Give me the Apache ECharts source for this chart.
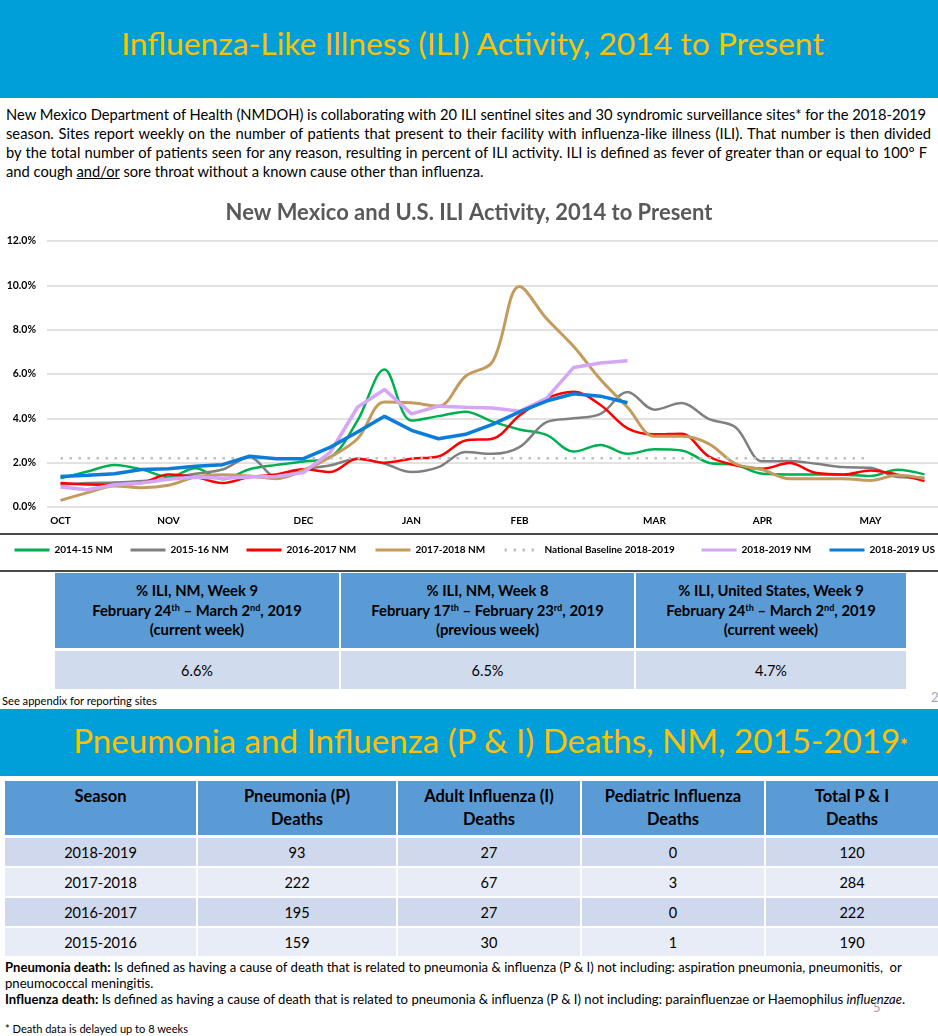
<!DOCTYPE html>
<html>
<head>
<meta charset="utf-8">
<script src="https://cdn.jsdelivr.net/npm/echarts/dist/echarts.min.js"></script>
<style>
html,body{margin:0;padding:0;background:#fff;}
body{width:938px;height:1036px;position:relative;overflow:hidden;font-family:Lato,"Noto Sans",sans-serif;color:#000;}
.a{position:absolute;white-space:nowrap;line-height:1;}
.band{position:absolute;left:0;width:938px;background:#009fda;}
.cell{position:absolute;display:flex;align-items:center;justify-content:center;text-align:center;white-space:nowrap;}
.h1c{background:#5b9bd5;font-weight:bold;font-size:14.8px;line-height:19.5px;}
.v1c{background:#d1dbee;font-size:14.5px;}
.h2c{position:absolute;background:#5b9bd5;font-weight:bold;font-size:16.5px;line-height:23px;text-align:center;padding-top:4px;box-sizing:border-box;white-space:nowrap;}
sup{font-size:0.62em;vertical-align:0.6em;line-height:0;}
.rule{position:absolute;left:0;width:938px;height:2px;background:#4a4a4a;z-index:5;}
#chart{position:absolute;left:0;top:190px;width:938px;height:380px;}
</style>
</head>
<body>
<div class="band" style="top:0;height:98px"></div>
<span class="a" data-cx="472.5" data-cy="45" data-w="703" style="color:#ffc000;font-size:34px">Influenza-Like Illness (ILI) Activity, 2014 to Present</span>

<span class="a para" data-l="6" data-cy="115" data-j="920">New Mexico Department of Health (NMDOH) is collaborating with 20 ILI sentinel sites and 30 syndromic surveillance sites* for the 2018-2019</span>
<span class="a para" data-l="6" data-cy="134" data-j="925">season. Sites report weekly on the number of patients that present to their facility with influenza-like illness (ILI). That number is then divided</span>
<span class="a para" data-l="6" data-cy="153" data-j="921">by the total number of patients seen for any reason, resulting in percent of ILI activity. ILI is defined as fever of greater than or equal to 100° F</span>
<span class="a para" data-l="6" data-cy="172">and cough <u>and/or</u> sore throat without a known cause other than influenza.</span>

<div id="chart"></div>
<div class="rule" style="top:533px"></div>
<div class="rule" style="top:570px"></div>

<div id="t1"></div>

<span class="a" data-l="2" data-cy="701" data-w="155" style="font-size:10px">See appendix for reporting sites</span>
<span class="a" data-l="931" data-cy="698" style="font-size:13px;color:#a6a6a6">2</span>

<div class="band" style="top:709px;height:67px"></div>
<span class="a" data-cx="490.5" data-cy="742" data-w="835" style="color:#ffc000;font-size:34px">Pneumonia and Influenza (P &amp; I) Deaths, NM, 2015-2019<span style="font-size:0.55em;vertical-align:0.05em;font-weight:bold">*</span></span>

<div id="t2"></div>

<span class="a" id="f1" data-l="5" data-cy="968" data-w="898" style="font-size:13px"><b>Pneumonia death:</b> Is defined as having a cause of death that is related to pneumonia &amp; influenza (P &amp; I) not including: aspiration pneumonia, pneumonitis,&nbsp; or</span>
<span class="a" data-l="5" data-cy="984" data-same="f1" style="font-size:13px">pneumococcal meningitis.</span>
<span class="a" data-l="5" data-cy="1000" data-w="901" style="font-size:13px"><b>Influenza death:</b> Is defined as having a cause of death that is related to pneumonia &amp; influenza (P &amp; I) not including: parainfluenzae or Haemophilus <i>influenzae</i>.</span>
<span class="a" data-l="873" data-cy="1008" style="font-size:13px;color:#a6a6a6">5</span>
<span class="a" data-l="5" data-cy="1029" data-w="183" style="font-size:10px">* Death data is delayed up to 8 weeks</span>

<script>
// ---------------- DATA ----------------
const weeks = ['40','41','42','43','44','45','46','47','48','49','50','51','52','1','2','3','4','5','6','7','8','9','10','11','12','13','14','15','16','17','18','19','20'];
const monthLabels = ['OCT','NOV','DEC','JAN','FEB','MAR','APR','MAY'];
const monthTickWeeks = ['40','44','49','1','5','10','14','18'];
const yTicks = [0, 2, 4, 6, 8, 10, 12];

const ili2014_15NM = [1.3,1.6,1.9,1.7,1.35,1.75,1.25,1.7,1.9,2.05,2.25,3.9,6.2,3.9,4.1,4.3,3.85,3.5,3.25,2.5,2.8,2.4,2.6,2.55,2.0,1.9,1.5,1.47,1.47,1.46,1.4,1.68,1.47];
const ili2015_16NM = [1.0,1.08,1.1,1.17,1.28,1.5,1.69,2.25,1.35,1.7,1.88,2.18,1.95,1.58,1.8,2.48,2.4,2.7,3.83,4.0,4.2,5.19,4.39,4.69,3.98,3.6,2.06,2.08,1.95,1.8,1.77,1.35,1.32];
const ili2016_17NM = [1.08,1.01,1.0,1.08,1.47,1.35,1.08,1.35,1.47,1.7,1.58,2.18,2.0,2.18,2.28,3.0,3.08,4.13,4.9,5.2,4.6,3.55,3.28,3.31,2.29,1.88,1.73,1.98,1.53,1.47,1.65,1.46,1.17];
const ili2017_18NM = [0.3,0.65,0.95,0.87,0.98,1.35,1.46,1.4,1.28,1.66,2.26,3.08,4.74,4.7,4.55,5.9,6.55,9.95,8.5,7.25,5.75,4.5,3.19,3.19,2.86,1.95,1.68,1.28,1.28,1.28,1.2,1.43,1.28];
const nationalBaseline = [2.2,2.2,2.2,2.2,2.2,2.2,2.2,2.2,2.2,2.2,2.2,2.2,2.2,2.2,2.2,2.2,2.2,2.2,2.2,2.2,2.2,2.2,2.2,2.2,2.2,2.2,2.2,2.2,2.2,2.2,2.2];
const ili2018_19NM = [0.9,0.78,1.0,1.08,1.25,1.35,1.3,1.35,1.38,1.55,2.48,4.5,5.3,4.2,4.55,4.5,4.47,4.32,4.9,6.29,6.5,6.6];
const ili2018_19US = [1.38,1.43,1.5,1.69,1.73,1.84,1.91,2.29,2.18,2.18,2.7,3.38,4.09,3.46,3.08,3.28,3.73,4.29,4.78,5.11,5.0,4.7];

const seriesNames = ['2014-15 NM','2015-16 NM','2016-2017 NM','2017-2018 NM','National Baseline 2018-2019','2018-2019 NM','2018-2019 US'];

const summaryHeaders = [
  '% ILI, NM, Week 9<br>February 24<sup>th</sup> – March 2<sup>nd</sup>, 2019<br>(current week)',
  '% ILI, NM, Week 8<br>February 17<sup>th</sup> – February 23<sup>rd</sup>, 2019<br>(previous week)',
  '% ILI, United States, Week 9<br>February 24<sup>th</sup> – March 2<sup>nd</sup>, 2019<br>(current week)'
];

const deathHeaders = ['Season','Pneumonia (P)<br>Deaths','Adult Influenza (I)<br>Deaths','Pediatric Influenza<br>Deaths','Total P &amp; I<br>Deaths'];
const seasons = ['2018-2019','2017-2018','2016-2017','2015-2016'];
const pneumoniaDeaths = [93,222,195,159];
const adultFluDeaths = [27,67,27,30];
const pediatricFluDeaths = [0,3,0,1];
const totalPIDeaths = [120,284,222,190];

// ---------------- TABLES ----------------
const t1 = document.getElementById('t1');
const t1Cols = [[55,284],[341,293],[636,270]];
const summaryValues = [ili2018_19NM[ili2018_19NM.length-1], ili2018_19NM[ili2018_19NM.length-2], ili2018_19US[ili2018_19US.length-1]];
t1Cols.forEach((c,i)=>{
  const h=document.createElement('div'); h.className='cell h1c';
  h.style.cssText+=`left:${c[0]}px;width:${c[1]}px;top:573px;height:75px;`;
  h.innerHTML='<div>'+summaryHeaders[i]+'</div>'; t1.appendChild(h);
  const v=document.createElement('div'); v.className='cell v1c';
  v.style.cssText+=`left:${c[0]}px;width:${c[1]}px;top:651px;height:38px;`;
  v.textContent=summaryValues[i].toFixed(1)+'%'; t1.appendChild(v);
});

const t2 = document.getElementById('t2');
const t2Cols = [[5,191],[198,198],[398,182],[582,182],[766,172]];
const rowTops=[838,868,898,928];
const rowColors=['#cfd8ec','#e8ecf6','#cfd8ec','#e8ecf6'];
const cols=[seasons,pneumoniaDeaths,adultFluDeaths,pediatricFluDeaths,totalPIDeaths];
t2Cols.forEach((c,i)=>{
  const h=document.createElement('div'); h.className='h2c';
  h.style.cssText+=`left:${c[0]}px;width:${c[1]}px;top:781px;height:54px;`;
  h.innerHTML=deathHeaders[i]; t2.appendChild(h);
  rowTops.forEach((t,r)=>{
    const d=document.createElement('div'); d.className='cell';
    d.style.cssText+=`left:${c[0]}px;width:${c[1]}px;top:${t}px;height:28px;background:${rowColors[r]};font-size:14.5px;`;
    d.textContent=cols[i][r]; t2.appendChild(d);
  });
});

// ---------------- TEXT LAYOUT ----------------
(function(){
  const paras=[...document.querySelectorAll('.para')];
  let fs=14; paras[0].style.fontSize=fs+'px';
  fs=fs*920/paras[0].getBoundingClientRect().width;
  paras.forEach(p=>{
    p.style.fontSize=fs+'px';
    if(p.dataset.j){
      const w=p.getBoundingClientRect().width;
      const n=(p.textContent.match(/ /g)||[]).length;
      p.style.wordSpacing=((+p.dataset.j-w)/n)+'px';
    }
  });
  document.querySelectorAll('[data-cy]').forEach(el=>{
    let f=parseFloat(getComputedStyle(el).fontSize);
    if(el.dataset.w){
      const w=el.getBoundingClientRect().width;
      f=f*(+el.dataset.w)/w; el.style.fontSize=f+'px';
    } else if(el.dataset.same){
      f=parseFloat(document.getElementById(el.dataset.same).style.fontSize); el.style.fontSize=f+'px';
    }
    const w=el.getBoundingClientRect().width;
    const left = el.dataset.cx ? (+el.dataset.cx - w/2) : +el.dataset.l;
    el.style.left=left+'px';
    el.style.top=(+el.dataset.cy - 0.55*f)+'px';
  });
})();

// ---------------- CHART ----------------
const F='Lato';
const chartTitle='New Mexico and U.S. ILI Activity, 2014 to Present';
const ctx=document.createElement('canvas').getContext('2d');
ctx.font='bold 20px '+F;
const titleFs=20*487/ctx.measureText(chartTitle).width;

const legendLeft=[13,129,245,374,503,700,828];

function ln(name,data,color,width,smooth,extra){
  return Object.assign({type:'line',name,data,symbol:'none',showSymbol:false,smooth,
    lineStyle:{color,width},itemStyle:{color},emphasis:{disabled:true},silent:true},extra||{});
}

const chart=echarts.init(document.getElementById('chart'));
chart.setOption({
  animation:false,
  title:{text:chartTitle,left:'center',top:25-titleFs*0.6,padding:0,
    textStyle:{fontFamily:F,fontWeight:'bold',fontSize:titleFs,color:'#595959'}},
  grid:{left:47,width:891,top:51,height:266,containLabel:false},
  legend:seriesNames.map((n,i)=>({data:[n],left:legendLeft[i],top:355,padding:0,itemWidth:35,itemHeight:10,
    selectedMode:false,itemStyle:{opacity:0,color:'rgba(0,0,0,0)',borderWidth:0},
    lineStyle:{width:3},
    textStyle:{fontFamily:F,fontWeight:'bold',fontSize:10,color:'#000'}})),
  xAxis:{type:'category',data:weeks,boundaryGap:true,
    axisLine:{show:false},axisTick:{show:false},
    axisLabel:{interval:0,margin:9,fontFamily:F,fontWeight:'bold',fontSize:10,color:'#000',
      formatter:(v)=>{const k=monthTickWeeks.indexOf(v);return k>=0?monthLabels[k]:'';}}},
  yAxis:{type:'value',min:yTicks[0],max:yTicks[yTicks.length-1],interval:yTicks[1]-yTicks[0],
    axisLine:{show:false},axisTick:{show:false},
    axisLabel:{margin:11,fontFamily:F,fontWeight:'bold',fontSize:10.5,color:'#000',formatter:v=>v.toFixed(1)+'%'},
    splitLine:{lineStyle:{color:'#d9d9d9',width:1.5}}},
  series:[
    ln(seriesNames[0],ili2014_15NM,'#00b050',2.5,0.35),
    ln(seriesNames[1],ili2015_16NM,'#808080',2.5,0.35),
    ln(seriesNames[2],ili2016_17NM,'#ff0000',2.5,0.35),
    ln(seriesNames[3],ili2017_18NM,'#c39b5c',3,0.35),
    ln(seriesNames[4],nationalBaseline,'#bfbfbf',2.5,false,{lineStyle:{color:'#bfbfbf',width:2.5,type:[2.5,6.5]}}),
    ln(seriesNames[5],ili2018_19NM,'#d5a6f7',3.5,false),
    ln(seriesNames[6],ili2018_19US,'#0a7cd9',3.5,false)
  ]
});
</script>
</body>
</html>
